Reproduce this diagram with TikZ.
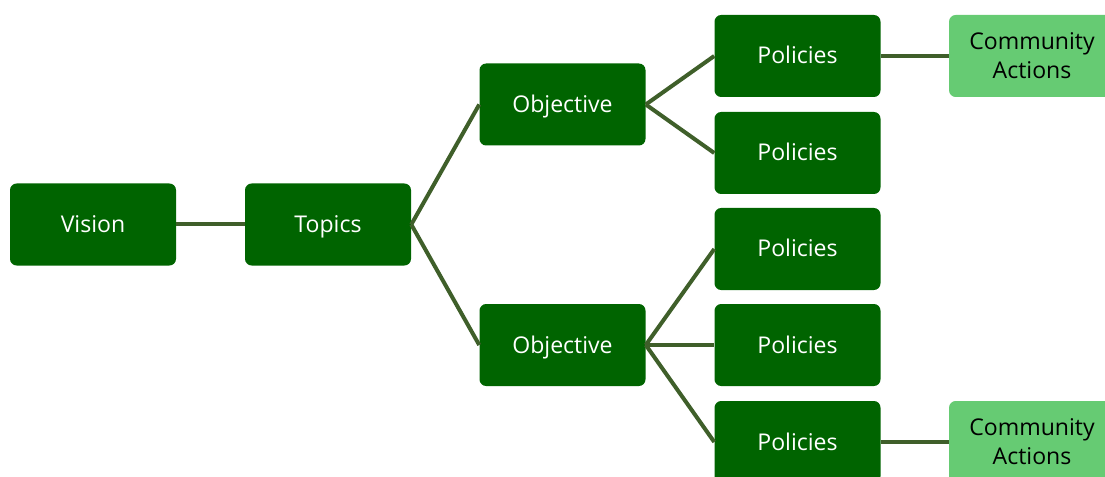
\documentclass[tikz,border=0pt]{standalone}
\usepackage{fontspec}
\setmainfont{Open Sans}
\definecolor{boxdark}{HTML}{006400}
\definecolor{boxlight}{HTML}{66CB73}
\definecolor{linkcol}{HTML}{3F5F2A}
\begin{document}
\begin{tikzpicture}[x=0.75pt,y=-0.75pt,
  base/.style={rounded corners=5pt,minimum width=124.5pt,minimum height=61.5pt,inner sep=0pt,font=\fontsize{17.3}{21.8}\selectfont},
  darkbox/.style={base,fill=boxdark,text=white,text height=15.5pt,text depth=3.5pt},
  lightbox/.style={base,fill=boxlight,text=black,align=center},
  link/.style={draw=linkcol,line width=3pt}]
\useasboundingbox (0,0) rectangle (1105,477);
\node[darkbox] (vision) at (93,224.5) {Vision};
\node[darkbox] (topics) at (328,224.5) {Topics};
\node[darkbox] (obj1) at (562.5,104.5) {Objective};
\node[darkbox] (obj2) at (562.5,345) {Objective};
\node[darkbox] (p1) at (797.5,56) {Policies};
\node[darkbox] (p2) at (797.5,153) {Policies};
\node[darkbox] (p3) at (797.5,249) {Policies};
\node[darkbox] (p4) at (797.5,345) {Policies};
\node[darkbox] (p5) at (797.5,442) {Policies};
\node[lightbox] (c1) at (1032,56) {Community\\Actions};
\node[lightbox] (c2) at (1032,442) {Community\\Actions};
\draw[link] (vision.east) -- (topics.west);
\draw[link] (topics.east) -- (obj1.west);
\draw[link] (topics.east) -- (obj2.west);
\draw[link] (obj1.east) -- (p1.west);
\draw[link] (obj1.east) -- (p2.west);
\draw[link] (obj2.east) -- (p3.west);
\draw[link] (obj2.east) -- (p4.west);
\draw[link] (obj2.east) -- (p5.west);
\draw[link] (p1.east) -- (c1.west);
\draw[link] (p5.east) -- (c2.west);
\end{tikzpicture}
\end{document}
